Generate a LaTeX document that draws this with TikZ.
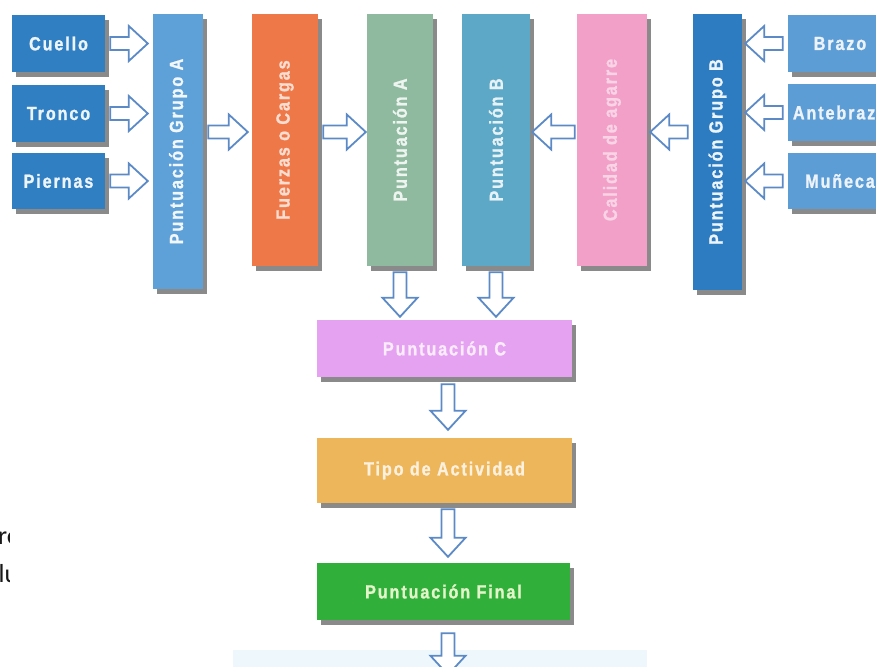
\documentclass[tikz,border=0pt]{standalone}
\usepackage{fontspec}
\newfontfamily\lblfont[LetterSpace=10,FakeStretch=0.85,BoldFeatures={FakeBold=1.2}]{Liberation Sans}
\newfontfamily\txtfont{Carlito}
\usetikzlibrary{calc,shadows}
\definecolor{cDark}{HTML}{2F7FC2}
\definecolor{cLight}{HTML}{5D9DD6}
\definecolor{cGrpA}{HTML}{5EA0D8}
\definecolor{cGrpB}{HTML}{2D7CC1}
\definecolor{cFuer}{HTML}{EE7847}
\definecolor{cPA}{HTML}{8FBA9F}
\definecolor{cPB}{HTML}{5CA8C6}
\definecolor{cCal}{HTML}{F2A0C8}
\definecolor{cPC}{HTML}{E5A2F1}
\definecolor{cTipo}{HTML}{EEB65A}
\definecolor{cFin}{HTML}{30B03A}
\definecolor{cBot}{HTML}{EEF8FC}
\definecolor{arrc}{HTML}{5B8AC6}
\begin{document}
\begin{tikzpicture}[x=1pt,y=-1pt,
  box/.style={rectangle, inner sep=0pt, text=white,
    font=\lblfont\bfseries\fontsize{19}{21}\selectfont,
    drop shadow={shadow xshift=4pt,shadow yshift=-5pt,fill=black!70,opacity=0.65}},
  sz/.style 2 args={minimum width=#1pt, minimum height=#2pt},
  blk/.style={draw=arrc, line width=1.8pt, fill=white, line join=miter,
    to path={let \p1=(\tikztostart), \p2=(\tikztotarget),
      \n1={atan2(\y2-\y1,\x2-\x1)}, \n2={veclen(\x2-\x1,\y2-\y1)} in
      (\p1) ++(\n1+90:6.5pt) -- ++(\n1:\n2*1pt-19pt) -- ++(\n1+90:11pt) -- (\p2)
      -- ($(\p2)+(\n1+180:19pt)+(\n1-90:17.5pt)$) -- ++(\n1+90:11pt)
      -- ($(\p1)+(\n1-90:6.5pt)$) -- cycle}},
  frag/.style={anchor=base west, inner sep=0pt, text=black!90, font=\txtfont\fontsize{26}{30}\selectfont}
  ]
\useasboundingbox (0,0) rectangle (876,667);
\fill[white] (0,0) rectangle (876,667);

% left column
\node[box, sz={93}{57}, fill=cDark, text=white!92!cDark] (cuello) at (58.5,43.5) {Cuello};
\node[box, sz={93}{57}, fill=cDark, text=white!92!cDark] (tronco) at (58.5,113.5) {Tronco};
\node[box, sz={93}{56}, fill=cDark, text=white!92!cDark] (piernas) at (58.5,181) {Piernas};

% vertical columns
\node[box, sz={50}{275}, fill=cGrpA, text=white!92!cGrpA] (grpA) at (178,151.5) {\rotatebox{90}{Puntuación Grupo A}};
\node[box, sz={66}{252}, fill=cFuer, text=white!75!cFuer] (fuer) at (285,140) {\rotatebox{90}{Fuerzas o Cargas}};
\node[box, sz={66}{252}, fill=cPA, text=white!85!cPA] (puntA) at (400,140) {\rotatebox{90}{Puntuación A}};
\node[box, sz={68}{252}, fill=cPB, text=white!85!cPB] (puntB) at (496,140) {\rotatebox{90}{Puntuación B}};
\node[box, sz={70}{252}, fill=cCal, text=white!55!cCal] (cal) at (612,140) {\rotatebox{90}{Calidad de agarre}};
\node[box, sz={49}{276}, fill=cGrpB, text=white!92!cGrpB] (grpB) at (717.5,152) {\rotatebox{90}{Puntuación Grupo B}};

% right column
\node[box, sz={104}{57}, fill=cLight, text=white!88!cLight] (brazo) at (840,43.5) {Brazo};
\node[box, sz={104}{57}, fill=cLight, text=white!88!cLight] (ante) at (840,112.5) {Antebrazo};
\node[box, sz={104}{56}, fill=cLight, text=white!88!cLight] (muneca) at (840,181) {Muñeca};

% lower chain
\node[box, sz={255}{57}, fill=cPC, text=white!80!cPC] (puntC) at (444.5,348.5) {Puntuación C};
\node[box, sz={255}{65}, fill=cTipo, text=white!80!cTipo] (tipo) at (444.5,470.5) {Tipo de Actividad};
\node[box, sz={253}{57}, fill=cFin, text=white!85!cFin!90!yellow] (final) at (443.5,591.5) {Puntuación Final};
\node[rectangle, fill=cBot, inner sep=0pt, sz={414}{50}] (bot) at (440,675) {};

% cut text fragments at left edge
\begin{scope}
\clip (0,500) rectangle (9,600);
\node[frag] (frA) at (-2,544) {ro};
\node[frag] (frB) at (-1.5,582) {lu};
\end{scope}

\coordinate (row) at (0,132);

% arrows left group
\draw[blk] ([xshift=5pt]cuello.east) to ([xshift=-5pt]grpA.west |- cuello.east);
\draw[blk] ([xshift=5pt]tronco.east) to ([xshift=-5pt]grpA.west |- tronco.east);
\draw[blk] ([xshift=5pt]piernas.east) to ([xshift=-5pt]grpA.west |- piernas.east);
\draw[blk] ([xshift=5pt]grpA.east |- row) to ([xshift=-4pt]fuer.west |- row);
\draw[blk] ([xshift=5pt]fuer.east |- row) to ([xshift=-1pt]puntA.west |- row);
% arrows right group
\draw[blk] ([xshift=-5pt]brazo.west) to ([xshift=3pt]grpB.east |- brazo.west);
\draw[blk] ([xshift=-5pt]ante.west) to ([xshift=3pt]grpB.east |- ante.west);
\draw[blk] ([xshift=-5pt]muneca.west) to ([xshift=3pt]grpB.east |- muneca.west);
\draw[blk] ([xshift=-5pt]grpB.west |- row) to ([xshift=3pt]cal.east |- row);
\draw[blk] ([xshift=-2pt]cal.west |- row) to ([xshift=2pt]puntB.east |- row);
% arrows down
\draw[blk] ([yshift=-6pt]puntA.south) to ([yshift=3pt]puntA.south |- puntC.north);
\draw[blk] ([yshift=-6pt]puntB.south) to ([yshift=3pt]puntB.south |- puntC.north);
\coordinate (mx) at (448,0);
\draw[blk] ([yshift=-7pt]mx |- puntC.south) to ([yshift=8pt]mx |- tipo.north);
\draw[blk] ([yshift=-6pt]mx |- tipo.south) to ([yshift=6pt]mx |- final.north);
\draw[blk] ([yshift=-13pt]mx |- final.south) to ([yshift=-25pt]mx |- bot.north);
\end{tikzpicture}
\end{document}
